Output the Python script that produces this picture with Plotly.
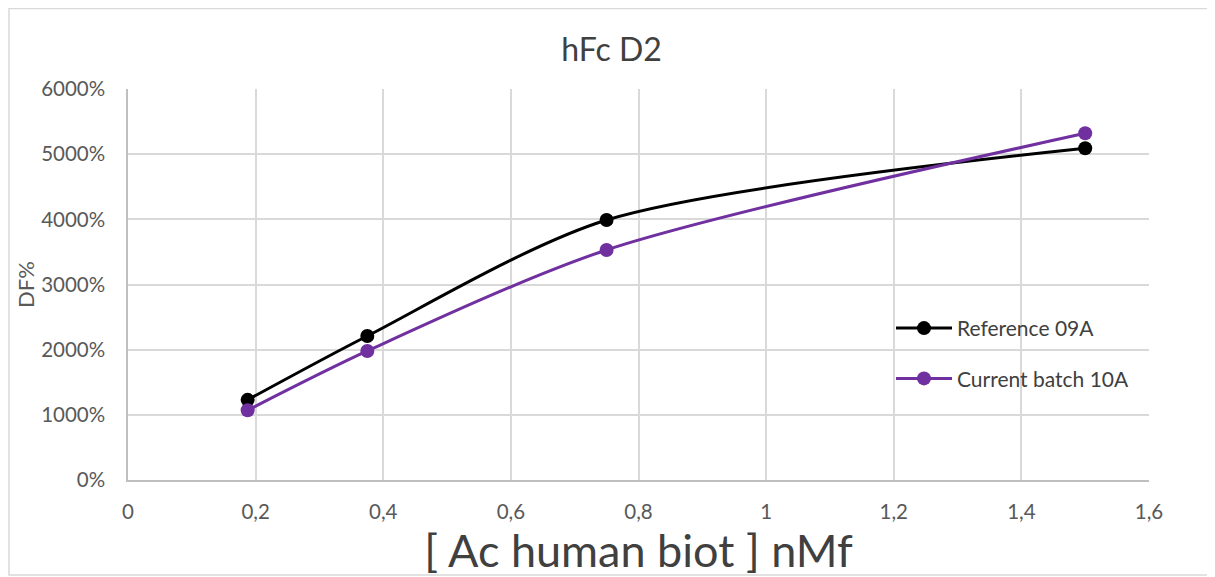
import plotly.graph_objects as go

x_conc = [0.1875, 0.375, 0.75, 1.5]
ref_09A = [12.3, 22.1, 39.9, 50.9]   # DF% / 100
cur_10A = [10.7, 19.8, 35.3, 53.2]
series_names = ["Reference 09A", "Current batch 10A"]
x_ticks = [0, 0.2, 0.4, 0.6, 0.8, 1.0, 1.2, 1.4, 1.6]
x_tick_labels = ["0", "0,2", "0,4", "0,6", "0,8", "1", "1,2", "1,4", "1,6"]
y_ticks = [0, 10, 20, 30, 40, 50, 60]
y_tick_labels = ["0%", "1000%", "2000%", "3000%", "4000%", "5000%", "6000%"]

FONT = "Lato"
W, H = 1207, 569
L, T, PW, PH = 120, 81, 1021, 391

fig = go.Figure()
fig.add_trace(go.Scatter(x=x_conc, y=ref_09A, name=series_names[0], mode="lines+markers",
                         legendgroup="a",
                         line=dict(color="#000000", width=3, shape="spline", smoothing=0.8),
                         marker=dict(size=14, color="#000000")))
fig.add_trace(go.Scatter(x=x_conc, y=cur_10A, name=series_names[1], mode="lines+markers",
                         legendgroup="b",
                         line=dict(color="#7030A0", width=3, shape="spline", smoothing=0.8),
                         marker=dict(size=14, color="#7030A0")))

fig.update_layout(
    width=W, height=H,
    margin=dict(l=L, r=W - L - PW, t=T, b=H - T - PH),
    paper_bgcolor="white", plot_bgcolor="white",
    font=dict(family=FONT, color="#595959", size=20),
    title=dict(text="hFc D2", x=0.5, xanchor="center", y=1 - 42 / H, yanchor="middle",
               font=dict(family=FONT, size=32, color="#404040")),
    showlegend=True,
    legend=dict(x=(891 - 8 - L) / PW, y=0.44, xanchor="left", yanchor="top",
                traceorder="grouped", tracegroupgap=20,
                bgcolor="rgba(0,0,0,0)", font=dict(size=21, color="#404040"),
                itemwidth=56),
    xaxis=dict(range=[0, 1.6], tickvals=x_ticks, ticktext=x_tick_labels,
               showgrid=True, gridcolor="#d9d9d9", gridwidth=1.5,
               showline=True, linecolor="#bfbfbf", linewidth=1.5, zeroline=False,
               ticks="", tickfont=dict(size=20.5, color="#595959"), ticklabelstandoff=13,
               title=dict(text="[ Ac human biot ] nMf", standoff=0,
                          font=dict(size=45, color="#404040"))),
    yaxis=dict(range=[0, 60], tickvals=y_ticks, ticktext=y_tick_labels,
               showgrid=True, gridcolor="#d9d9d9", gridwidth=1.5,
               showline=True, linecolor="#bfbfbf", linewidth=1.5, zeroline=False,
               ticks="", tickfont=dict(size=20.5, color="#595959"), ticklabelstandoff=17,
               title=dict(text="DF%", standoff=0, font=dict(size=22, color="#595959"))),
    shapes=[dict(type="rect", xref="paper", yref="paper",
                 x0=(1 - L) / PW, x1=(1205 - L) / PW,
                 y0=(T + PH - 567) / PH, y1=(T + PH - 0.5) / PH,
                 line=dict(color="#d9d9d9", width=1.5), fillcolor="rgba(0,0,0,0)", layer="below")],
)

fig.write_html("out.html")
